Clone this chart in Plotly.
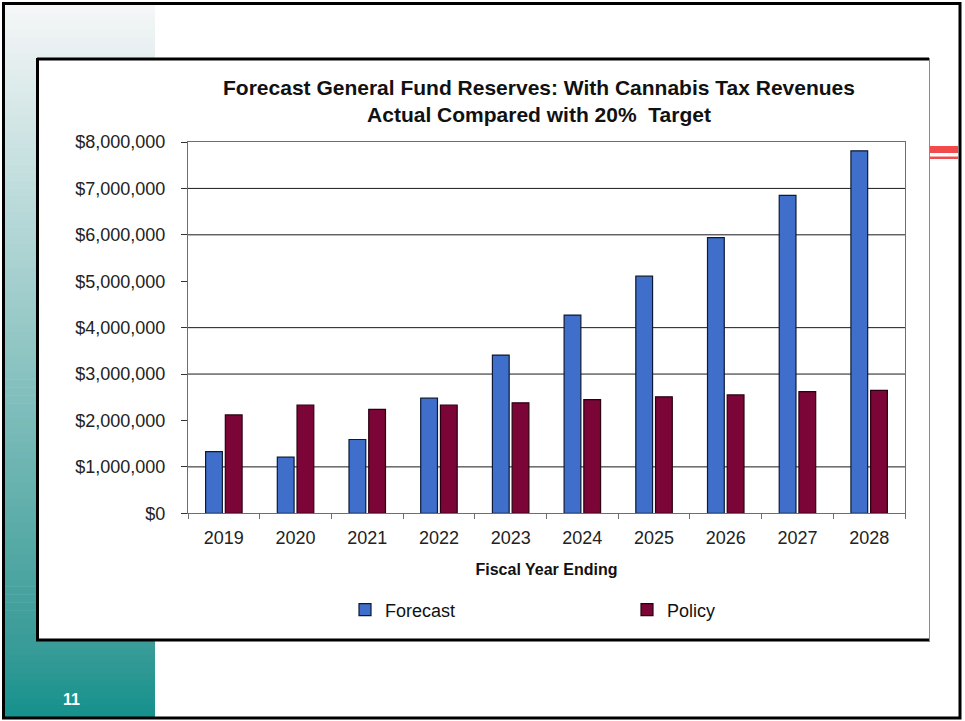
import plotly.graph_objects as go

# ---- data -------------------------------------------------------------
years = ["2019", "2020", "2021", "2022", "2023", "2024", "2025", "2026", "2027", "2028"]
forecast = [1330000, 1210000, 1590000, 2480000, 3410000, 4270000, 5110000, 5940000, 6850000, 7810000]
policy = [2120000, 2330000, 2240000, 2330000, 2380000, 2450000, 2510000, 2550000, 2620000, 2650000]
y_ticks = [0, 1000000, 2000000, 3000000, 4000000, 5000000, 6000000, 7000000, 8000000]
y_tick_text = ["$0", "$1,000,000", "$2,000,000", "$3,000,000", "$4,000,000",
               "$5,000,000", "$6,000,000", "$7,000,000", "$8,000,000"]
grid_levels = [1000000, 3000000, 4000000, 6000000, 7000000]

W, H = 965, 721
FONT = "Liberation Sans, Arial, sans-serif"


def px(x):
    return x / W


def py(y):
    return 1 - y / H


def mix(c1, c2, t):
    a = [int(c1[i:i + 2], 16) for i in (1, 3, 5)]
    b = [int(c2[i:i + 2], 16) for i in (1, 3, 5)]
    return "rgb(%d,%d,%d)" % tuple(round(a[k] + (b[k] - a[k]) * t) for k in range(3))


shapes = []


def rect(x0, y0, x1, y1, fill, line_color=None, line_width=0, layer="below"):
    shapes.append(dict(type="rect", xref="paper", yref="paper",
                       x0=px(x0), x1=px(x1), y0=py(y1), y1=py(y0),
                       fillcolor=fill, layer=layer,
                       line=dict(color=line_color or fill, width=line_width)))


def vgradient(x0, y0, x1, y1, c_top, c_bot, steps):
    h = (y1 - y0) / steps
    for i in range(steps):
        rect(x0, y0 + i * h, x1, y0 + (i + 1) * h + 0.6, mix(c_top, c_bot, i / (steps - 1)))


# slide background decoration: teal strip on the left
vgradient(5, 5, 155, 642, "#f4f6f7", "#3a9c98", 80)
vgradient(5, 642, 155, 718, "#3a9c98", "#16918d", 12)

# chart panel
rect(37, 58, 929, 641, "#ffffff")
shapes.append(dict(type="line", xref="paper", yref="paper", x0=px(37), x1=px(929),
                   y0=py(59), y1=py(59), line=dict(color="#000000", width=3), layer="below"))
shapes.append(dict(type="line", xref="paper", yref="paper", x0=px(37.5), x1=px(37.5),
                   y0=py(58), y1=py(641), line=dict(color="#000000", width=3), layer="below"))
shapes.append(dict(type="line", xref="paper", yref="paper", x0=px(36), x1=px(930),
                   y0=py(640), y1=py(640), line=dict(color="#000000", width=3), layer="below"))
shapes.append(dict(type="line", xref="paper", yref="paper", x0=px(929.5), x1=px(929.5),
                   y0=py(58), y1=py(641), line=dict(color="#8a8a8a", width=1), layer="below"))

# red accent lines on the right
rect(930, 146, 958, 153, "#f24a4a")
rect(930, 156.5, 958, 159, "#f24a4a")

# outer slide frame
shapes.append(dict(type="rect", xref="paper", yref="paper", x0=px(3.5), x1=px(960),
                   y0=py(718), y1=py(3.5), line=dict(color="#000000", width=3),
                   fillcolor="rgba(0,0,0,0)", layer="above"))

# horizontal gridlines
for g in grid_levels:
    shapes.append(dict(type="line", xref="x domain", yref="y", x0=0, x1=1, y0=g, y1=g,
                       line=dict(color="#1a1a1a", width=1), layer="below"))

fig = go.Figure()
fig.add_trace(go.Bar(name="Forecast", x=years, y=forecast,
                     marker=dict(color="#3f6fcb", line=dict(color="#0d1a33", width=1.2))))
fig.add_trace(go.Bar(name="Policy", x=years, y=policy,
                     marker=dict(color="#7a0536", line=dict(color="#2a0010", width=1.2))))

fig.update_layout(
    template="none",
    width=W, height=H, autosize=False,
    margin=dict(l=0, r=0, t=0, b=0, pad=0),
    paper_bgcolor="#ffffff",
    plot_bgcolor="#fdf1c6",
    barmode="group", bargap=0.45, bargroupgap=0.15,
    font=dict(family=FONT, color="#1a1a1a"),
    shapes=shapes,
    title=dict(text="<b>Forecast General Fund Reserves: With Cannabis Tax Revenues<br>"
                    "Actual Compared with 20%  Target</b>",
               x=px(539), xanchor="center", xref="paper",
               y=py(95), yanchor="middle", yref="paper",
               font=dict(family=FONT, size=21, color="#111111")),
    xaxis=dict(type="category", domain=[px(188), px(905)], automargin=False,
               showline=True, linecolor="#6e6e6e", linewidth=1, mirror=True,
               ticks="outside", tickson="boundaries", ticklen=5, tickcolor="#6e6e6e",
               tickfont=dict(size=18, color="#222222"),
               ticklabelstandoff=8,
               showgrid=False, zeroline=False,
               title=dict(text="<b>Fiscal Year Ending</b>", standoff=16,
                          font=dict(size=16, color="#111111"))),
    yaxis=dict(domain=[py(513.3), py(142)], range=[0, 8000000], automargin=False,
               tickvals=y_ticks, ticktext=y_tick_text,
               showline=True, linecolor="#6e6e6e", linewidth=1, mirror=True,
               ticks="outside", ticklen=6, tickcolor="#333333",
               tickfont=dict(size=18, color="#222222"),
               ticklabelstandoff=12,
               showgrid=False, zeroline=False),
    legend=dict(orientation="h", x=px(345), xanchor="left", y=py(610), yanchor="middle",
                entrywidth=237, entrywidthmode="pixels",
                font=dict(size=18, color="#111111"), bgcolor="rgba(0,0,0,0)",
                itemclick=False),
    annotations=[dict(text="<b>11</b>", x=px(71), y=py(699), xref="paper", yref="paper",
                      xanchor="center", yanchor="middle",
                      showarrow=False, font=dict(family=FONT, size=16, color="#ffffff"))],
)

fig.write_html("out.html")
